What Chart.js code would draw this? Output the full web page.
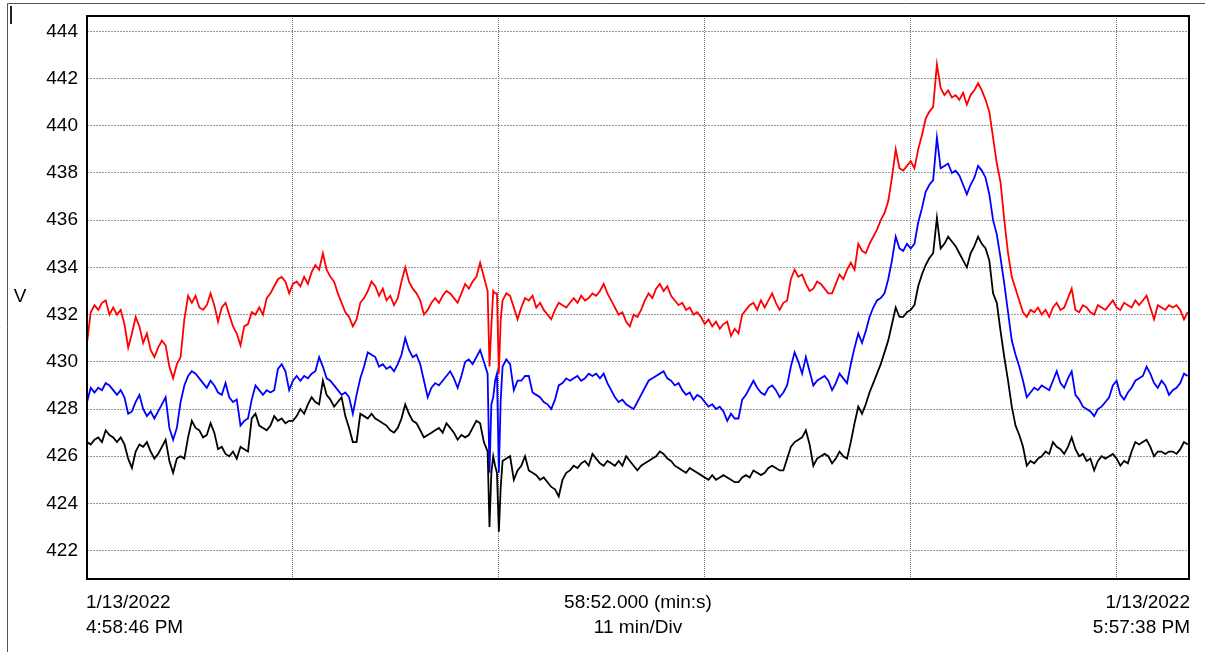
<!DOCTYPE html>
<html>
<head>
<meta charset="utf-8">
<title>Voltage trend</title>
<script src="https://cdn.jsdelivr.net/npm/chart.js@4.4.1/dist/chart.umd.min.js"></script>
<style>
	html, body { margin: 0; padding: 0; background: #fff; }
	canvas { display: block; }
</style>
</head>
<body>
<canvas id="trend" width="1205" height="652"></canvas>
<script>
// elapsed time of each sample, minutes from 4:58:46 PM
const timeMin = [
	0, 0.2, 0.4, 0.6, 0.8, 1, 1.2, 1.4, 1.6, 1.8,
	2, 2.2, 2.4, 2.6, 2.8, 3, 3.2, 3.4, 3.6, 3.8,
	4, 4.2, 4.4, 4.6, 4.8, 5, 5.2, 5.4, 5.6, 5.8,
	6, 6.2, 6.4, 6.6, 6.8, 7, 7.2, 7.4, 7.6, 7.8,
	8, 8.2, 8.4, 8.6, 8.8, 9, 9.2, 9.4, 9.6, 9.8,
	10, 10.2, 10.4, 10.6, 10.8, 11, 11.2, 11.4, 11.6, 11.8,
	12, 12.2, 12.4, 12.6, 12.8, 13, 13.2, 13.4, 13.6, 13.8,
	14, 14.2, 14.4, 14.6, 14.8, 15, 15.2, 15.4, 15.6, 15.8,
	16, 16.2, 16.4, 16.6, 16.8, 17, 17.2, 17.4, 17.6, 17.8,
	18, 18.2, 18.4, 18.6, 18.8, 19, 19.2, 19.4, 19.6, 19.8,
	20, 20.2, 20.4, 20.6, 20.8, 21, 21.2,
	21.4, 21.5, 21.6, 21.7, 21.8, 21.9, 22, 22.1, 22.2,
	22.4, 22.6, 22.8, 23, 23.2, 23.4, 23.6, 23.8,
	24, 24.2, 24.4, 24.6, 24.8, 25, 25.2, 25.4, 25.6, 25.8,
	26, 26.2, 26.4, 26.6, 26.8, 27, 27.2, 27.4, 27.6, 27.8,
	28, 28.2, 28.4, 28.6, 28.8, 29, 29.2, 29.4, 29.6, 29.8,
	30, 30.2, 30.4, 30.6, 30.8, 31, 31.2, 31.4, 31.6, 31.8,
	32, 32.2, 32.4, 32.6, 32.8, 33, 33.2, 33.4, 33.6, 33.8,
	34, 34.2, 34.4, 34.6, 34.8, 35, 35.2, 35.4, 35.6, 35.8,
	36, 36.2, 36.4, 36.6, 36.8, 37, 37.2, 37.4, 37.6, 37.8,
	38, 38.2, 38.4, 38.6, 38.8, 39, 39.2, 39.4, 39.6, 39.8,
	40, 40.2, 40.4, 40.6, 40.8, 41, 41.2, 41.4, 41.6, 41.8,
	42, 42.2, 42.4, 42.6, 42.8, 43, 43.2, 43.4, 43.6, 43.8,
	44, 44.2, 44.4, 44.6, 44.8, 45, 45.2, 45.4, 45.6, 45.8,
	46, 46.2, 46.4, 46.6, 46.8, 47, 47.2, 47.4, 47.6, 47.8,
	48, 48.2, 48.4, 48.6, 48.8, 49, 49.2, 49.4, 49.6, 49.8,
	50, 50.2, 50.4, 50.6, 50.8, 51, 51.2, 51.4, 51.6, 51.8,
	52, 52.2, 52.4, 52.6, 52.8, 53, 53.2, 53.4, 53.6, 53.8,
	54, 54.2, 54.4, 54.6, 54.8, 55, 55.2, 55.4, 55.6, 55.8,
	56, 56.2, 56.4, 56.6, 56.8, 57, 57.2, 57.4, 57.6, 57.8,
	58, 58.2, 58.4, 58.6, 58.8
]

// phase voltages, V
const redV = [
	430.8, 432.1, 432.4, 432.2, 432.5, 432.6, 432.0, 432.3, 432.0, 432.2,
	431.6, 430.6, 431.2, 431.9, 431.5, 430.8, 431.2, 430.5, 430.2, 430.6,
	430.9, 430.7, 429.8, 429.3, 429.9, 430.2, 431.8, 432.8, 432.5, 432.8,
	432.3, 432.2, 432.4, 432.9, 432.4, 431.7, 432.3, 432.5, 432.0, 431.5,
	431.2, 430.7, 431.5, 431.6, 432.1, 432.0, 432.3, 432.0, 432.7, 432.9,
	433.2, 433.5, 433.6, 433.4, 432.9, 433.3, 433.4, 433.2, 433.6, 433.3,
	433.8, 434.1, 433.9, 434.6, 433.9, 433.6, 433.4, 432.9, 432.5, 432.1,
	431.9, 431.5, 431.8, 432.5, 432.7, 433.0, 433.4, 433.2, 432.8, 433.1,
	432.6, 432.8, 432.4, 432.7, 433.4, 434.0, 433.4, 433.1, 432.9, 432.6,
	432.0, 432.2, 432.5, 432.7, 432.5, 432.8, 433.0, 432.9, 432.7, 432.5,
	432.9, 433.3, 433.1, 433.4, 433.6, 434.2, 433.6,
	433.0, 429.8, 431.5, 433.0, 432.9, 432.9, 429.5, 431.8, 432.6,
	432.9, 432.8, 432.3, 431.8, 432.3, 432.7, 432.6, 432.8,
	432.3, 432.5, 432.2, 432.0, 431.8, 432.2, 432.5, 432.4, 432.3, 432.5,
	432.7, 432.5, 432.8, 432.6, 432.7, 432.9, 432.8, 433.0, 433.3, 432.9,
	432.6, 432.3, 432.0, 432.1, 431.7, 431.5, 432.0, 431.9, 432.2, 432.6,
	432.9, 432.7, 433.1, 433.3, 433.0, 433.2, 432.8, 432.6, 432.4, 432.5,
	432.2, 432.3, 432.0, 432.1, 431.9, 431.6, 431.8, 431.5, 431.7, 431.4,
	431.6, 431.7, 431.1, 431.4, 431.2, 432.0, 432.2, 432.4, 432.5, 432.2,
	432.6, 432.3, 432.6, 432.9, 432.5, 432.2, 432.5, 432.6, 433.5, 433.9,
	433.6, 433.7, 433.3, 433.0, 433.1, 433.4, 433.3, 433.1, 432.9, 432.9,
	433.3, 433.7, 433.5, 433.9, 434.2, 433.9, 435.0, 434.7, 434.6, 435.0,
	435.3, 435.6, 436.0, 436.3, 436.8, 437.8, 439.0, 438.2, 438.1, 438.3,
	438.5, 438.2, 439.0, 439.6, 440.3, 440.6, 440.8, 442.6, 441.6, 441.3,
	441.5, 441.2, 441.3, 441.1, 441.4, 440.9, 441.3, 441.5, 441.8, 441.5,
	441.1, 440.6, 439.5, 438.4, 437.6, 436.0, 434.6, 433.6, 433.1, 432.6,
	432.1, 431.9, 432.2, 432.1, 432.3, 432.0, 432.2, 431.9, 432.3, 432.5,
	432.2, 432.3, 432.7, 433.1, 432.2, 432.1, 432.4, 432.3, 432.1, 432.0,
	432.4, 432.3, 432.2, 432.4, 432.6, 432.3, 432.2, 432.5, 432.4, 432.3,
	432.6, 432.4, 432.6, 432.8, 432.3, 431.8, 432.4, 432.3, 432.2, 432.4,
	432.3, 432.4, 432.2, 431.8, 432.1
]

const blueV = [
	428.3, 428.9, 428.7, 428.9, 428.8, 429.1, 429.0, 428.8, 428.6, 428.8,
	428.5, 427.8, 427.9, 428.3, 428.6, 428.0, 427.7, 427.9, 427.6, 427.9,
	428.2, 428.5, 427.2, 426.7, 427.2, 428.3, 429.0, 429.4, 429.6, 429.5,
	429.3, 429.1, 428.9, 429.2, 429.0, 428.7, 428.6, 429.1, 428.5, 428.3,
	428.4, 427.3, 427.5, 427.6, 428.4, 429.0, 428.8, 428.6, 428.8, 428.7,
	428.8, 429.7, 429.9, 429.6, 428.8, 429.2, 429.4, 429.2, 429.4, 429.3,
	429.5, 429.6, 430.2, 429.8, 429.3, 429.2, 429.0, 428.8, 428.6, 428.7,
	428.5, 427.8, 428.6, 429.3, 429.8, 430.4, 430.3, 430.2, 429.8, 429.9,
	429.7, 429.8, 429.6, 429.9, 430.3, 431.0, 430.5, 430.2, 430.3, 429.9,
	429.2, 428.5, 428.9, 429.1, 429.0, 429.2, 429.4, 429.6, 429.3, 428.9,
	429.4, 430.0, 430.1, 429.9, 430.2, 430.5, 430.0,
	429.5, 425.3, 428.2, 428.5, 429.2, 429.5, 425.3, 428.4, 429.8,
	430.1, 429.9, 428.8, 429.2, 429.2, 429.4, 429.4, 428.7,
	428.6, 428.5, 428.3, 428.2, 428.0, 428.4, 429.0, 429.1, 429.3, 429.2,
	429.3, 429.4, 429.2, 429.3, 429.5, 429.4, 429.5, 429.3, 429.5, 429.1,
	428.8, 428.5, 428.3, 428.4, 428.2, 428.1, 428.0, 428.3, 428.6, 428.9,
	429.2, 429.3, 429.4, 429.5, 429.6, 429.3, 429.2, 429.0, 429.1, 428.8,
	428.6, 428.7, 428.4, 428.6, 428.5, 428.3, 428.1, 428.2, 428.0, 428.1,
	427.9, 427.5, 427.8, 427.6, 427.6, 428.4, 428.6, 428.9, 429.2, 428.9,
	428.7, 428.6, 428.9, 429.0, 428.8, 428.5, 428.7, 429.0, 429.8, 430.4,
	430.0, 429.5, 430.2, 429.6, 429.0, 429.2, 429.3, 429.4, 429.2, 428.8,
	429.1, 429.5, 429.3, 429.1, 429.9, 430.6, 431.2, 430.8, 431.3, 431.9,
	432.3, 432.6, 432.7, 432.9, 433.5, 434.3, 435.3, 434.8, 434.7, 435.0,
	434.8, 435.0, 435.9, 436.5, 437.2, 437.5, 437.7, 439.5, 438.2, 438.3,
	438.4, 438.0, 438.1, 437.9, 437.5, 437.1, 437.5, 437.8, 438.3, 438.1,
	437.8, 437.1, 436.0, 435.4, 434.4, 433.3, 432.1, 430.9, 430.3, 429.8,
	429.2, 428.5, 428.7, 428.9, 428.8, 429.0, 428.9, 428.8, 429.2, 429.6,
	429.1, 428.9, 429.3, 429.6, 428.6, 428.4, 428.1, 428.0, 427.9, 427.7,
	428.0, 428.1, 428.3, 428.5, 429.0, 429.2, 428.6, 428.4, 428.7, 428.9,
	429.2, 429.3, 429.4, 429.8, 429.5, 429.1, 428.9, 429.2, 429.0, 428.6,
	428.8, 428.9, 429.1, 429.5, 429.4
]

const blackV = [
	426.6, 426.5, 426.7, 426.8, 426.6, 427.1, 426.9, 426.8, 426.6, 426.8,
	426.5, 425.9, 425.5, 426.2, 426.5, 426.4, 426.6, 426.2, 425.9, 426.1,
	426.4, 426.7, 425.8, 425.3, 425.9, 426.0, 425.9, 426.8, 427.5, 427.2,
	427.1, 426.8, 426.9, 427.4, 427.0, 426.3, 426.4, 426.1, 426.0, 426.2,
	425.9, 426.4, 426.3, 426.2, 427.6, 427.8, 427.3, 427.2, 427.1, 427.3,
	427.7, 427.5, 427.6, 427.4, 427.5, 427.5, 427.7, 428.0, 427.8, 428.2,
	428.5, 428.3, 428.2, 429.2, 428.6, 428.4, 428.1, 428.3, 428.5, 427.7,
	427.2, 426.6, 426.6, 427.8, 427.7, 427.6, 427.8, 427.6, 427.5, 427.4,
	427.3, 427.1, 427.0, 427.2, 427.6, 428.2, 427.8, 427.5, 427.4, 427.1,
	426.8, 426.9, 427.0, 427.1, 427.2, 427.0, 427.4, 427.2, 427.0, 426.7,
	426.9, 426.8, 426.9, 427.2, 427.5, 427.4, 426.6,
	426.2, 423.0, 425.3, 426.0, 425.6, 425.3, 422.8, 424.7, 425.8,
	425.9, 426.0, 425.0, 425.4, 425.6, 426.0, 425.4, 425.3,
	425.2, 425.0, 425.1, 424.9, 424.7, 424.6, 424.3, 425.0, 425.3, 425.4,
	425.6, 425.5, 425.7, 425.8, 425.6, 426.1, 425.9, 425.7, 425.6, 425.8,
	425.7, 425.6, 425.8, 425.6, 426.0, 425.8, 425.6, 425.4, 425.6, 425.7,
	425.8, 425.9, 426.0, 426.2, 426.1, 425.9, 425.8, 425.6, 425.5, 425.4,
	425.3, 425.5, 425.4, 425.3, 425.2, 425.1, 425.0, 425.2, 425.0, 425.1,
	425.2, 425.1, 425.0, 424.9, 424.9, 425.1, 425.2, 425.1, 425.4, 425.3,
	425.2, 425.3, 425.5, 425.6, 425.5, 425.4, 425.4, 425.9, 426.4, 426.6,
	426.7, 426.8, 427.1, 426.5, 425.6, 425.9, 426.0, 426.1, 426.0, 425.7,
	425.9, 426.2, 426.0, 425.9, 426.6, 427.4, 428.1, 427.8, 428.2, 428.7,
	429.1, 429.5, 429.9, 430.4, 430.9, 431.6, 432.3, 431.9, 431.9, 432.1,
	432.2, 432.4, 433.2, 433.7, 434.1, 434.4, 434.6, 436.1, 434.8, 435.0,
	435.3, 435.1, 434.9, 434.6, 434.3, 434.0, 434.6, 434.9, 435.3, 435.0,
	434.8, 434.3, 432.9, 432.5, 431.3, 430.2, 429.2, 428.1, 427.3, 426.9,
	426.4, 425.6, 425.8, 425.7, 425.9, 426.0, 426.2, 426.1, 426.6, 426.4,
	426.3, 426.1, 426.4, 426.8, 426.3, 426.0, 426.1, 425.8, 425.9, 425.4,
	425.8, 426.0, 425.9, 426.0, 426.1, 425.9, 425.6, 425.8, 425.7, 426.2,
	426.6, 426.5, 426.6, 426.7, 426.4, 426.0, 426.2, 426.2, 426.1, 426.2,
	426.2, 426.1, 426.3, 426.6, 426.5
]

const spanMin = 58 + 52 / 60   // 58:52.000
const divMin = 11
const startLabel = ["1/13/2022", "4:58:46 PM"]
const endLabel = ["1/13/2022", "5:57:38 PM"]
const midLabel = ["58:52.000 (min:s)", "11 min/Div"]

const font = '"Liberation Sans", Arial, sans-serif'

function points(values) {
	return timeMin.map((t, i) => ({ x: t, y: values[i] }))
}

function series(values, color) {
	return {
		data: points(values),
		borderColor: color,
		borderWidth: 1.8,
		pointRadius: 0,
		tension: 0,
		fill: false
	}
}

// frame, plot border and the loose captions round the plot
const captions = {
	id: "captions",
	beforeDraw(chart) {
		const c = chart.ctx
		c.save()
		c.fillStyle = "#fff"
		c.fillRect(0, 0, chart.width, chart.height)
		c.strokeStyle = "#555"
		c.lineWidth = 1
		c.beginPath()
		c.moveTo(7.5, 652)
		c.lineTo(7.5, 3.5)
		c.lineTo(1205, 3.5)
		c.stroke()
		c.strokeStyle = "#222"
		c.lineWidth = 2
		c.beginPath()
		c.moveTo(11, 6)
		c.lineTo(11, 24)
		c.stroke()
		c.restore()
	},
	afterDraw(chart) {
		const c = chart.ctx
		const a = chart.chartArea
		c.save()
		c.strokeStyle = "#000"
		c.lineWidth = 2
		c.strokeRect(a.left, a.top, a.right - a.left, a.bottom - a.top)

		c.fillStyle = "#000"
		c.font = "19px " + font
		c.textBaseline = "middle"
		c.textAlign = "center"
		c.fillText("V", 20, 297)

		const rows = [a.bottom + 24, a.bottom + 49]
		c.textAlign = "left"
		startLabel.forEach((s, i) => c.fillText(s, a.left - 1, rows[i]))
		c.textAlign = "center"
		midLabel.forEach((s, i) => c.fillText(s, (a.left + a.right) / 2, rows[i]))
		c.textAlign = "right"
		endLabel.forEach((s, i) => c.fillText(s, a.right + 1, rows[i]))
		c.restore()
	}
}

const chart = new Chart("trend", {
	type: "line",
	data: {
		datasets: [
			series(blackV, "#000000"),
			series(blueV, "#0000ff"),
			series(redV, "#ff0000")
		]
	},
	options: {
		responsive: false,
		animation: false,
		devicePixelRatio: 1,
		layout: { padding: { top: 16, right: 16, left: 0, bottom: 0 } },
		plugins: {
			legend: { display: false },
			tooltip: { enabled: false }
		},
		scales: {
			x: {
				type: "linear",
				min: 0,
				max: spanMin,
				afterFit: (scale) => { scale.height = 73 },
				ticks: { display: false, stepSize: divMin, includeBounds: false },
				grid: { color: "#6e6e6e", lineWidth: 1, drawTicks: false },
				border: { display: false, dash: [1, 1] }
			},
			y: {
				min: 420.8,
				max: 444.65,
				afterFit: (scale) => {
					scale.width = 87
					// keep the tick labels from pushing the plot down
					scale.paddingTop = 0
					scale.paddingBottom = 0
				},
				ticks: {
					stepSize: 2,
					includeBounds: false,
					padding: 9,
					color: "#000",
					font: { family: font, size: 19 }
				},
				grid: { color: "#9a9a9a", lineWidth: 1, drawTicks: false },
				border: { display: false, dash: [2, 1] }
			}
		}
	},
	plugins: [captions]
})
</script>
</body>
</html>
